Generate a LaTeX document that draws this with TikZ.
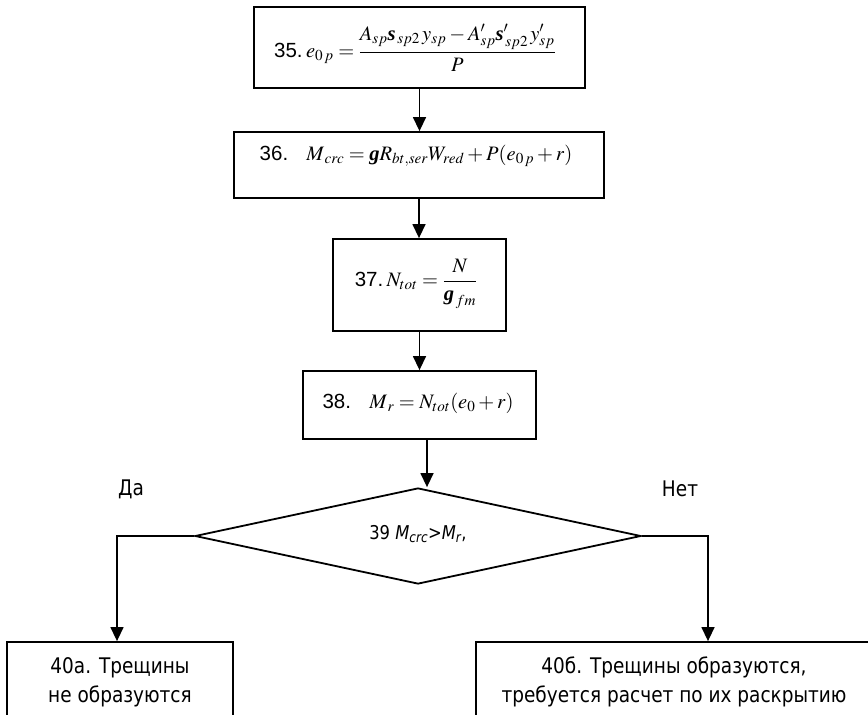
\documentclass[tikz,border=0pt]{standalone}
\usepackage{amsmath}
\usepackage{mathptmx}
\usepackage{fontspec}
\setmainfont{Liberation Serif}
\newfontfamily\labelfont{Liberation Sans}
\newfontfamily\capfont[FakeStretch=0.86]{DejaVu Sans}
\usetikzlibrary{shapes.geometric,arrows.meta}
% bold italic Latin letter standing in for a Greek symbol
\newcommand{\bsym}[1]{\mbox{\bfseries\itshape #1}}

\begin{document}
\begin{tikzpicture}[x=1pt,y=-1pt,
  blk/.style={draw,line width=1.8pt,rectangle,inner sep=0pt},
  dmd/.style={draw,line width=1.8pt,diamond,inner sep=0pt},
  flow/.style={line width=1.4pt,-{Triangle[length=14pt,width=13pt]}},
  fml/.style={font=\fontsize{20.5}{24}\selectfont,inner sep=0pt},
  captxt/.style={font=\capfont\fontsize{21.5}{29}\selectfont,align=center,inner sep=0pt}]
\path[use as bounding box, clip] (0,0) rectangle (868,715);
\fill[white] (0,0) rectangle (868,715);

% process blocks
\node[blk, minimum width=331pt, minimum height=81pt] (b35) at (419.5,47.5) {};
\node[blk, minimum width=370pt, minimum height=66pt] (b36) at (419,165) {};
\node[blk, minimum width=173pt, minimum height=92pt] (b37) at (419.5,285) {};
\node[blk, minimum width=233pt, minimum height=68pt] (b38) at (419.5,405) {};
\node[dmd, minimum width=446pt, minimum height=96pt] (d39) at (418,536) {};
\node[blk, minimum width=226pt, minimum height=98pt] (b40a) at (120,691) {};
\node[blk, minimum width=399pt, minimum height=98pt] (b40b) at (675.5,691) {};

% formulas
\node[fml] (t35) at (415,48)
  {{\labelfont 35.}\,$e_{0\,p} = \displaystyle\frac{A_{sp}\bsym{s}_{\,sp2}\,y_{sp} - A'_{sp}\bsym{s}'_{\,sp2}\,y'_{sp}}{P}$};
\node[fml, anchor=base] (t36) at (416,160)
  {{\labelfont 36.}\;\; $M_{\,crc} = \bsym{g}R_{bt,ser}W_{red} + P(e_{0\,p} + r)$};
\node[fml] (t37) at (416,284)
  {{\labelfont 37.}\,$N_{tot} = \displaystyle\frac{N}{\bsym{g}_{\,fm}}$};
\node[fml, anchor=base] (t38) at (418,408)
  {{\labelfont 38.}\;\; $M_{\,r} = N_{tot}(e_0 + r)$};
\node[captxt, font=\capfont\fontsize{19}{22}\selectfont] (t39) at (418,534)
  {39 \textit{M\textsubscript{crc}}>\textit{M\textsubscript{r}},};

% branch labels
\node[captxt] (yes) at (131,489) {Да};
\node[captxt] (no) at (680,489) {Нет};

% outcomes
\node[captxt] (t40a) at (120,682) {40а. Трещины\\не образуются};
\node[captxt] (t40b) at (674,682) {40б. Трещины образуются,\\требуется расчет по их раскрытию};

% connectors
\draw[flow] (b35.south) -- (b35.south |- b36.north);
\draw[flow] (b36.south) -- (b36.south |- b37.north);
\draw[flow] (b37.south) -- (b37.south |- b38.north);
\coordinate (c38) at ([xshift=7.5pt]b38.south);
\draw[flow] (c38) -- (c38 |- d39.north);
\coordinate (l40) at ([xshift=-3pt]b40a.north);
\coordinate (r40) at ([xshift=32.5pt]b40b.north);
\draw[flow] (d39.west) -| (l40);
\draw[flow] (d39.east) -| (r40);
\end{tikzpicture}
\end{document}
